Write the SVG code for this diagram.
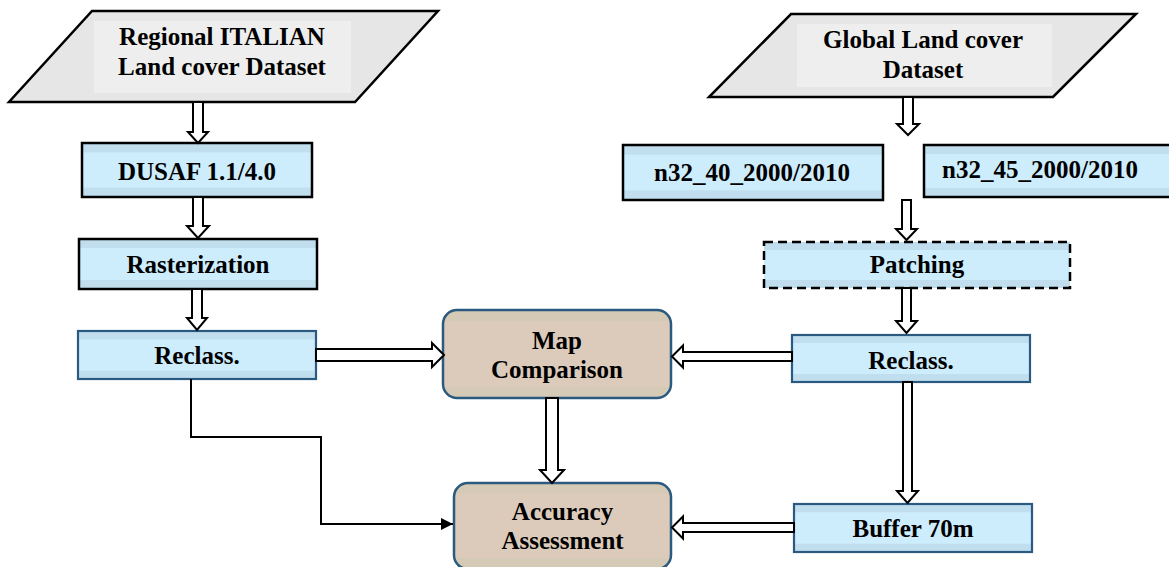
<svg xmlns="http://www.w3.org/2000/svg" width="1169" height="567" viewBox="0 0 1169 567">
  <defs>
    <!-- banded fills: slightly darker strip along top and bottom edges -->
    <linearGradient id="blueFill" x1="0" y1="0" x2="0" y2="1">
      <stop offset="0" stop-color="#c1deef"/>
      <stop offset="0.17" stop-color="#c1deef"/>
      <stop offset="0.18" stop-color="#cdedfc"/>
      <stop offset="0.82" stop-color="#cdedfc"/>
      <stop offset="0.83" stop-color="#c1deef"/>
      <stop offset="1" stop-color="#c1deef"/>
    </linearGradient>
    <linearGradient id="tanFill" x1="0" y1="0" x2="0" y2="1">
      <stop offset="0" stop-color="#d4cab5"/>
      <stop offset="0.12" stop-color="#d4cab5"/>
      <stop offset="0.13" stop-color="#dccbbb"/>
      <stop offset="0.87" stop-color="#dccbbb"/>
      <stop offset="0.88" stop-color="#d4cab5"/>
      <stop offset="1" stop-color="#d4cab5"/>
    </linearGradient>
    <marker id="solidHead" viewBox="0 0 12 12" refX="12" refY="6" markerWidth="12" markerHeight="12" markerUnits="userSpaceOnUse" orient="auto">
      <path d="M0,0 L12,6 L0,12 Z" fill="#000"/>
    </marker>
  </defs>
  <style>
    .label { font-family: "Liberation Serif", "Times New Roman", serif; font-weight: bold; font-size: 25px; fill: #000; text-anchor: middle; }
    .data { fill: #e6e6e6; stroke: #000; stroke-width: 2.5; }
    .dataInner { fill: #eeeeee; }
    .procDark { fill: url(#blueFill); stroke: #000; stroke-width: 2.5; }
    .procBlue { fill: url(#blueFill); stroke: #2a5a80; stroke-width: 2.2; }
    .procDash { fill: url(#blueFill); stroke: #000; stroke-width: 2.5; stroke-dasharray: 9 5; }
    .result { fill: url(#tanFill); stroke: #2a5a80; stroke-width: 2.5; }
    .hollow { fill: #fff; stroke: #000; stroke-width: 2; stroke-linejoin: miter; }
    .line { fill: none; stroke: #000; stroke-width: 2; }
  </style>

  <!-- input datasets -->
  <g id="regional-dataset">
    <polygon class="data" points="92,11 438,11 355,102 9,102"/>
    <rect class="dataInner" x="94" y="21" width="257" height="72"/>
    <text class="label" x="222" y="45">Regional ITALIAN</text>
    <text class="label" x="222" y="75">Land cover Dataset</text>
  </g>
  <g id="global-dataset">
    <polygon class="data" points="791,14 1136,14 1053,97 709,97"/>
    <rect class="dataInner" x="797" y="24" width="255" height="63"/>
    <text class="label" x="923" y="48">Global Land cover</text>
    <text class="label" x="923" y="78">Dataset</text>
  </g>

  <!-- left branch -->
  <g id="dusaf">
    <rect class="procDark" x="82" y="143" width="230" height="54"/>
    <text class="label" x="197" y="180">DUSAF 1.1/4.0</text>
  </g>
  <g id="rasterization">
    <rect class="procDark" x="79" y="239" width="238" height="50"/>
    <text class="label" x="198" y="273">Rasterization</text>
  </g>
  <g id="reclass-left">
    <rect class="procBlue" x="78" y="331" width="238" height="48"/>
    <text class="label" x="197" y="364">Reclass.</text>
  </g>

  <!-- right branch -->
  <g id="tile-n32-40">
    <rect class="procDark" x="623" y="145" width="260" height="55"/>
    <text class="label" x="752" y="181">n32_40_2000/2010</text>
  </g>
  <g id="tile-n32-45">
    <rect class="procDark" x="924" y="145" width="250" height="52"/>
    <text class="label" x="1040" y="178">n32_45_2000/2010</text>
  </g>
  <g id="patching">
    <rect class="procDash" x="764" y="242" width="306" height="46"/>
    <text class="label" x="917" y="273">Patching</text>
  </g>
  <g id="reclass-right">
    <rect class="procBlue" x="792" y="335" width="238" height="47"/>
    <text class="label" x="911" y="369">Reclass.</text>
  </g>
  <g id="buffer">
    <rect class="procBlue" x="794" y="504" width="238" height="48"/>
    <text class="label" x="913" y="537">Buffer 70m</text>
  </g>

  <!-- outputs -->
  <g id="map-comparison">
    <rect class="result" x="443" y="310" width="228" height="88" rx="14" ry="14"/>
    <text class="label" x="557" y="349">Map</text>
    <text class="label" x="557" y="378">Comparison</text>
  </g>
  <g id="accuracy-assessment">
    <rect class="result" x="454" y="483" width="217" height="86" rx="14" ry="14"/>
    <text class="label" x="562.5" y="520">Accuracy</text>
    <text class="label" x="562.5" y="549">Assessment</text>
  </g>

  <!-- connectors -->
  <g id="connectors">
    <!-- hollow block arrows, pointing down -->
    <path class="hollow" d="M193,102 V132 H188 L198,143 L208,132 H203 V102 Z"/>
    <path class="hollow" d="M193,197 V226 H187 L198,238 L209,226 H203 V197 Z"/>
    <path class="hollow" d="M192,289 V318 H187 L197,330 L207,318 H202 V289 Z"/>
    <path class="hollow" d="M546,398 V470 H540 L552,483 L564,470 H558 V398 Z"/>
    <path class="hollow" d="M903,97 V124 H897 L908,135 L919,124 H913 V97 Z"/>
    <path class="hollow" d="M902,200 V229 H896 L906.5,240 L917,229 H911 V200 Z"/>
    <path class="hollow" d="M902,288 V321 H896 L906.5,333 L917,321 H911 V288 Z"/>
    <path class="hollow" d="M903,382 V491 H897 L907.5,503 L918,491 H912 V382 Z"/>
    <!-- hollow block arrows, horizontal -->
    <path class="hollow" d="M316,349 H432 V343 L444,355 L432,367 V361 H316 Z"/>
    <path class="hollow" d="M792,352 H683 V345.5 L672,356.5 L683,367.5 V361 H792 Z"/>
    <path class="hollow" d="M794,523 H683 V516.5 L672,527.5 L683,538.5 V532 H794 Z"/>
    <!-- elbow line from left Reclass to Accuracy Assessment -->
    <path class="line" d="M191,379 V437 H321 V524 H453" marker-end="url(#solidHead)"/>
  </g>
</svg>
